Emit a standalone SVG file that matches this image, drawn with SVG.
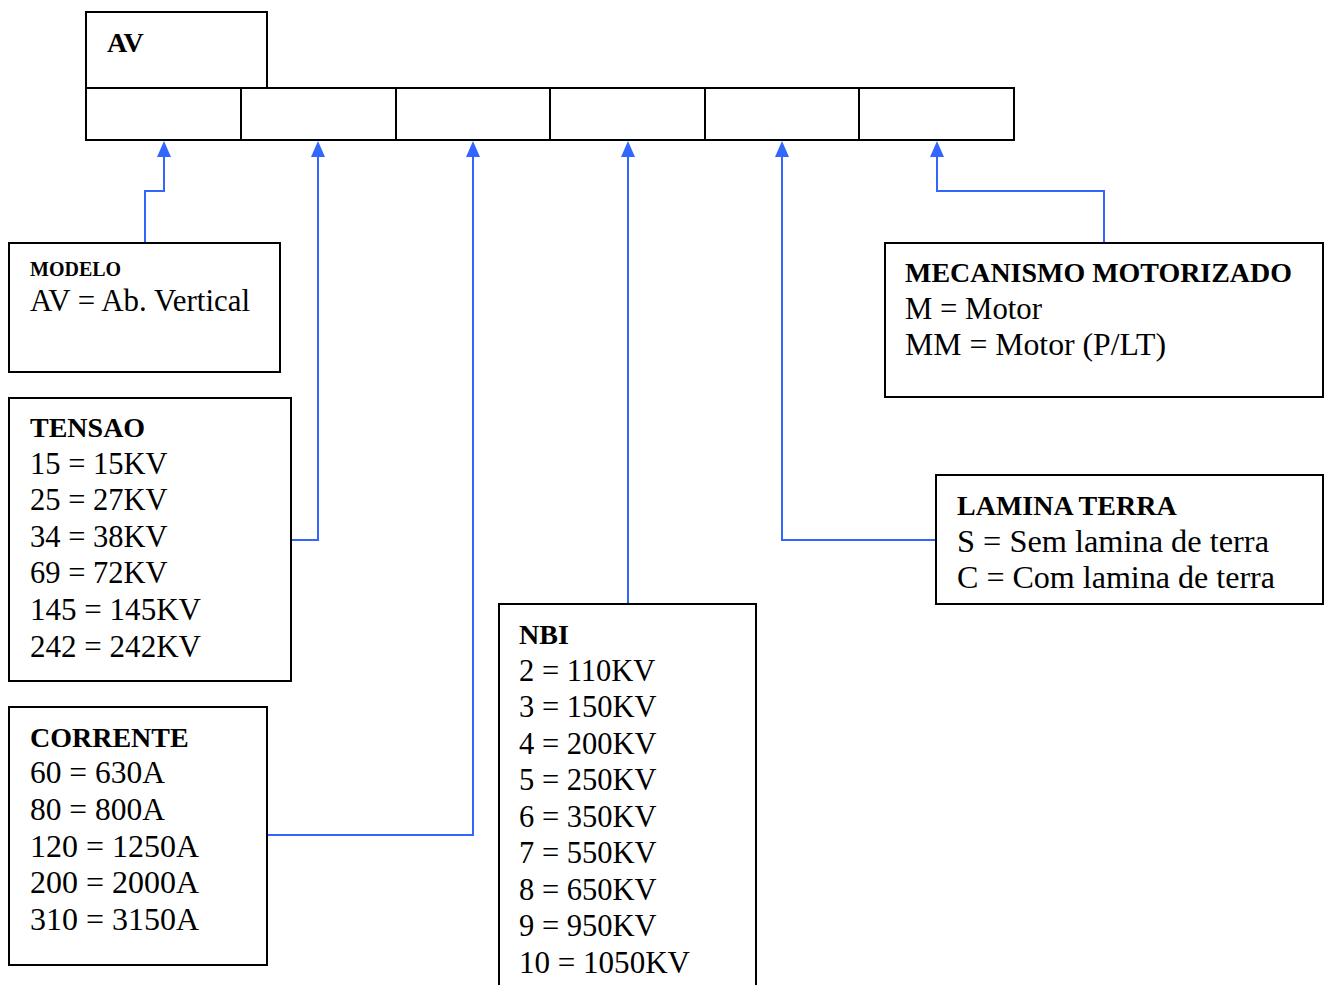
<svg xmlns="http://www.w3.org/2000/svg" width="1325" height="985" viewBox="0 0 1325 985">
<style>
.box{fill:#fff;stroke:#000;stroke-width:2}
.t{font-family:"Liberation Serif","Times New Roman",serif;font-size:30.5px;fill:#000}
.h{font-family:"Liberation Serif","Times New Roman",serif;font-size:28px;font-weight:bold;fill:#000}
.c{fill:none;stroke:#3366ff;stroke-width:2}
</style>
<rect width="1325" height="985" fill="#fff"/>
<g id="header">
<rect class="box" x="86" y="12" width="181" height="76"/>
<text class="h" x="107" y="52">AV</text>
</g>
<g id="cells">
<rect class="box" x="86" y="88" width="155" height="52"/>
<rect class="box" x="241" y="88" width="155" height="52"/>
<rect class="box" x="396" y="88" width="154" height="52"/>
<rect class="box" x="550" y="88" width="155" height="52"/>
<rect class="box" x="705" y="88" width="154" height="52"/>
<rect class="box" x="859" y="88" width="155" height="52"/>
</g>
<g id="connectors">
<polyline class="c" points="145,243 145,191 164,191 164,157"/>
<polyline class="c" points="291,540 318,540 318,157"/>
<polyline class="c" points="267,835 473,835 473,157"/>
<polyline class="c" points="628,604 628,157"/>
<polyline class="c" points="936,540 782,540 782,157"/>
<polyline class="c" points="1104,243 1104,191 937,191 937,157"/>
<g fill="#3366ff">
<polygon points="164,141 157,157 171,157"/>
<polygon points="318,141 311,157 325,157"/>
<polygon points="473,141 466,157 480,157"/>
<polygon points="628,141 621,157 635,157"/>
<polygon points="782,141 775,157 789,157"/>
<polygon points="937,141 930,157 944,157"/>
</g>
</g>
<g id="modelo">
<rect class="box" x="9" y="243" width="271" height="129"/>
<text class="h" x="30" y="276" style="font-size:20px">MODELO</text>
<text class="t" x="30" y="311" textLength="220" lengthAdjust="spacingAndGlyphs">AV = Ab. Vertical</text>
</g>
<g id="tensao">
<rect class="box" x="9" y="398" width="282" height="283"/>
<text class="h" x="30" y="437">TENSAO</text>
<text class="t" x="30" y="474">15 = 15KV</text>
<text class="t" x="30" y="510">25 = 27KV</text>
<text class="t" x="30" y="547">34 = 38KV</text>
<text class="t" x="30" y="583">69 = 72KV</text>
<text class="t" x="30" y="620" textLength="171" lengthAdjust="spacingAndGlyphs">145 = 145KV</text>
<text class="t" x="30" y="657" textLength="171" lengthAdjust="spacingAndGlyphs">242 = 242KV</text>
</g>
<g id="corrente">
<rect class="box" x="9" y="707" width="258" height="258"/>
<text class="h" x="30" y="747">CORRENTE</text>
<text class="t" x="30" y="783" textLength="135" lengthAdjust="spacingAndGlyphs">60 = 630A</text>
<text class="t" x="30" y="820" textLength="135" lengthAdjust="spacingAndGlyphs">80 = 800A</text>
<text class="t" x="30" y="857" textLength="169" lengthAdjust="spacingAndGlyphs">120 = 1250A</text>
<text class="t" x="30" y="893" textLength="169" lengthAdjust="spacingAndGlyphs">200 = 2000A</text>
<text class="t" x="30" y="930" textLength="169" lengthAdjust="spacingAndGlyphs">310 = 3150A</text>
</g>
<g id="nbi">
<rect class="box" x="499" y="604" width="257" height="400"/>
<text class="h" x="519" y="644">NBI</text>
<text class="t" x="519" y="681">2 = 110KV</text>
<text class="t" x="519" y="717">3 = 150KV</text>
<text class="t" x="519" y="754">4 = 200KV</text>
<text class="t" x="519" y="790">5 = 250KV</text>
<text class="t" x="519" y="827">6 = 350KV</text>
<text class="t" x="519" y="863">7 = 550KV</text>
<text class="t" x="519" y="900">8 = 650KV</text>
<text class="t" x="519" y="936">9 = 950KV</text>
<text class="t" x="519" y="973" textLength="171" lengthAdjust="spacingAndGlyphs">10 = 1050KV</text>
</g>
<g id="mecanismo">
<rect class="box" x="885" y="243" width="438" height="154"/>
<text class="h" x="905" y="282" textLength="387" lengthAdjust="spacingAndGlyphs">MECANISMO MOTORIZADO</text>
<text class="t" x="905" y="319" textLength="137" lengthAdjust="spacingAndGlyphs">M = Motor</text>
<text class="t" x="905" y="355" textLength="261" lengthAdjust="spacingAndGlyphs">MM = Motor (P/LT)</text>
</g>
<g id="lamina">
<rect class="box" x="936" y="475" width="387" height="129"/>
<text class="h" x="957" y="515">LAMINA TERRA</text>
<text class="t" x="957" y="552" textLength="312" lengthAdjust="spacingAndGlyphs">S = Sem lamina de terra</text>
<text class="t" x="957" y="588" textLength="318" lengthAdjust="spacingAndGlyphs">C = Com lamina de terra</text>
</g>
</svg>
